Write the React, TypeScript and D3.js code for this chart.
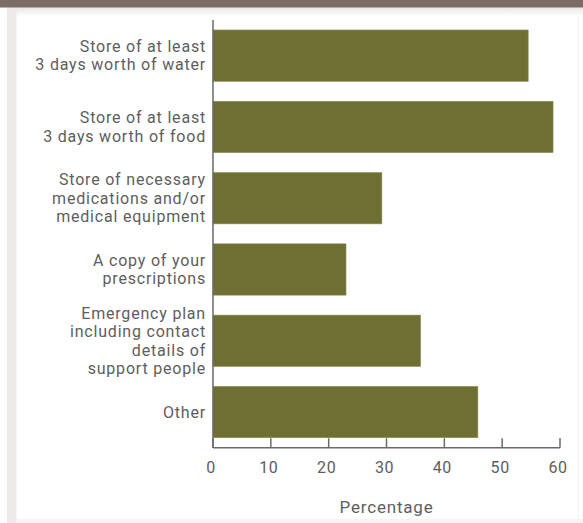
import React from "react";
import * as d3 from "d3";

const categories: string[][] = [
  ["Store of at least", "3 days worth of water"],
  ["Store of at least", "3 days worth of food"],
  ["Store of necessary", "medications and/or", "medical equipment"],
  ["A copy of your", "prescriptions"],
  ["Emergency plan", "including contact", "details of", "support people"],
  ["Other"],
];
const values: number[] = [54.5, 58.8, 29.2, 23.0, 35.9, 45.8];
const xTicks: number[] = [0, 10, 20, 30, 40, 50, 60];
const xTitle = "Percentage";

const W = 583;
const H = 523;
const FONT = "Roboto, 'Liberation Sans', sans-serif";
const TEXT = "#5e5e5e";
const AXIS = "#6a6a6a";
const BAR = "#6e7033";

export default function App() {
  const x = d3.scaleLinear().domain([0, 60]).range([213, 560]);
  const y = d3
    .scaleBand<number>()
    .domain(categories.map((_, i) => i))
    .range([20, 447.7])
    .paddingInner(0.28)
    .paddingOuter(0.14);
  const lh = 18.5;
  const axisY = 447.7;

  return (
    <svg
      width={W}
      height={H}
      style={{ position: "fixed", left: 0, top: 0, display: "block", background: "#fff" }}
    >
      <defs>
        <linearGradient id="topfade" x1="0" y1="0" x2="0" y2="1">
          <stop offset="0" stopColor="#e9e7e4" />
          <stop offset="1" stopColor="#ffffff" />
        </linearGradient>
      </defs>
      <rect x={0} y={0} width={W} height={H} fill="#fff" />
      <rect x={7} y={7.5} width={W - 7} height={9} fill="url(#topfade)" />
      <rect x={7} y={7.5} width={9.5} height={H - 7.5} fill="#ecebe9" />
      <rect x={16.5} y={519} width={W - 16.5} height={4} fill="#f6f5f4" />
      <rect x={578} y={16} width={1} height={H - 16} fill="#f3f2f1" />
      <rect x={0} y={0} width={W} height={7.5} fill="#7b6d66" />

      {values.map((v, i) => (
        <rect
          key={i}
          x={x(0)}
          y={y(i)}
          width={x(v) - x(0)}
          height={y.bandwidth()}
          fill={BAR}
          stroke="#8f9050"
          strokeWidth={0.6}
        />
      ))}

      <line x1={x(0)} x2={x(0)} y1={20} y2={axisY} stroke={AXIS} strokeWidth={1.5} />
      <line x1={x(0)} x2={x(60)} y1={axisY} y2={axisY} stroke={AXIS} strokeWidth={1.5} />
      {xTicks.map((t) => (
        <g key={t}>
          <line x1={x(t)} x2={x(t)} y1={axisY} y2={axisY - 9.5} stroke={AXIS} strokeWidth={1.5} />
          <text
            x={x(t) - 2}
            y={473}
            textAnchor="middle"
            fontFamily={FONT}
            fontSize={16}
            letterSpacing={0.6}
            fill={TEXT}
          >
            {t}
          </text>
        </g>
      ))}
      <text
        x={(x(0) + x(60)) / 2}
        y={513}
        textAnchor="middle"
        fontFamily={FONT}
        fontSize={17}
        letterSpacing={0.8}
        fill={TEXT}
      >
        {xTitle}
      </text>

      {categories.map((lines, i) => {
        const cy = (y(i) as number) + y.bandwidth() / 2;
        const first = cy - ((lines.length - 1) * lh) / 2 + 5.5;
        return (
          <text
            key={i}
            textAnchor="end"
            fontFamily={FONT}
            fontSize={16}
            letterSpacing={0.8}
            fill={TEXT}
          >
            {lines.map((l, j) => (
              <tspan key={j} x={206} y={first + j * lh}>
                {l}
              </tspan>
            ))}
          </text>
        );
      })}
    </svg>
  );
}
